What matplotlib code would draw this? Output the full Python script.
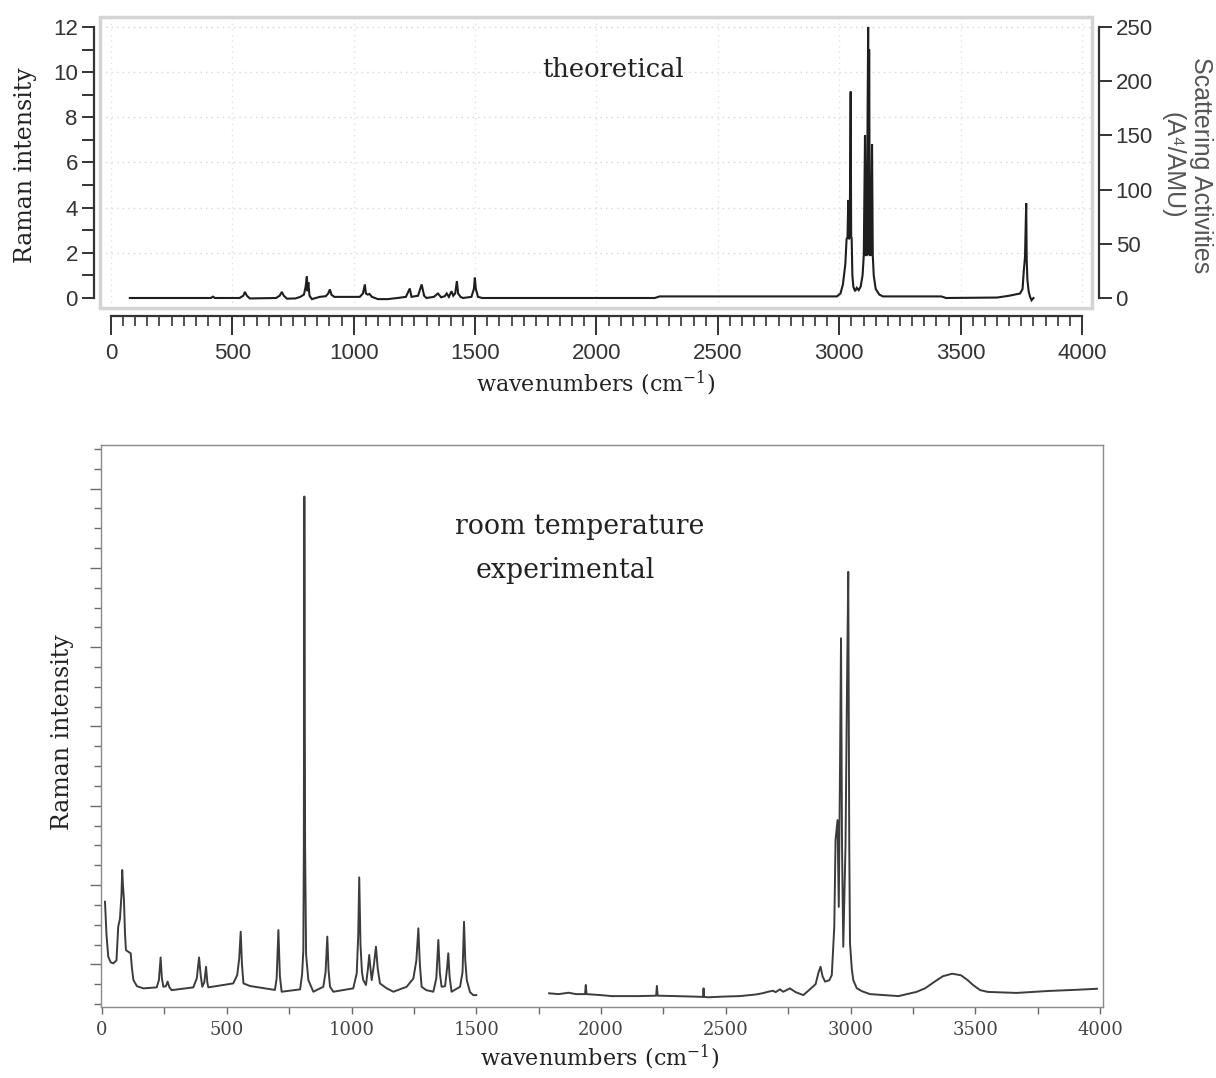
import numpy as np
import matplotlib
matplotlib.use("Agg")
import matplotlib.pyplot as plt
from matplotlib import font_manager
from matplotlib.patches import Rectangle
from matplotlib.ticker import MultipleLocator, FixedLocator

# ---------------- data ----------------
# theoretical spectrum, left axis units (Raman intensity)
theo_wn = [78, 300, 412, 420, 428, 530, 545, 552, 560, 572, 680, 695, 704, 712, 725, 760,
           780, 795, 802, 807, 810, 813, 818, 828, 860, 885, 895, 902, 908, 920, 1025, 1038,
           1046, 1050, 1058, 1065, 1075, 1100, 1140, 1180, 1215, 1231, 1238, 1265, 1280, 1290,
           1300, 1330, 1347, 1360, 1375, 1383, 1392, 1403, 1410, 1418, 1425, 1430, 1440, 1450,
           1485, 1495, 1499, 1503, 1512, 1530, 2240, 2260,
           2990, 3005, 3015, 3025, 3030, 3034, 3037, 3040, 3043, 3047, 3049, 3051, 3054, 3058,
           3065, 3072, 3080, 3088, 3096, 3101, 3106, 3109, 3113, 3119, 3121, 3123, 3126, 3130,
           3135, 3138, 3142, 3150, 3165, 3180, 3420, 3440, 3650, 3700, 3745, 3755, 3760, 3765,
           3770, 3772, 3775, 3780, 3786, 3792, 3800]
theo_int = [0.0, 0.0, 0.0, 0.06, 0.0, 0.0, 0.1, 0.27, 0.1, -0.02, 0.0, 0.1, 0.27, 0.1, -0.03, -0.02,
            0.05, 0.15, 0.5, 0.95, 0.3, 0.7, 0.1, -0.05, 0.05, 0.08, 0.2, 0.38, 0.15, 0.05, 0.05, 0.2,
            0.6, 0.2, 0.15, 0.18, 0.05, -0.05, -0.05, 0.0, 0.05, 0.42, 0.05, 0.1, 0.6, 0.1,
            0.0, 0.05, 0.2, 0.03, 0.08, 0.2, 0.05, 0.3, 0.1, 0.2, 0.75, 0.2, 0.05, 0.0,
            0.05, 0.4, 0.9, 0.4, 0.05, 0.0, 0.0, 0.07,
            0.07, 0.2, 0.6, 1.5, 2.6, 2.7, 4.34, 2.6, 2.7, 9.14, 2.7, 2.66, 1.0, 0.5,
            0.3, 0.45, 0.35, 0.5, 1.0, 1.9, 7.2, 1.9, 1.9, 12.0, 1.9, 11.0, 1.9, 1.9,
            6.8, 1.9, 1.0, 0.4, 0.15, 0.07, 0.07, 0.0, 0.02, 0.1, 0.2, 0.4, 1.2, 1.8,
            4.2, 1.7, 0.8, 0.3, 0.05, -0.1, 0.0]

# experimental spectrum (arbitrary units), two recorded ranges
exp_low_wn = [12, 18, 25, 35, 45, 58, 65, 72, 78, 81, 84, 88, 92, 96, 105, 115, 120, 126, 140, 166,
              219, 228, 235, 240, 246, 256, 263, 270, 279, 366, 380, 389, 396, 402, 410, 417, 422,
              426, 526, 542, 550, 556, 561, 567, 593, 693, 700, 707, 713, 720, 794, 802, 807, 809,
              811, 814, 818, 827, 847, 887, 896, 903, 908, 914, 927, 1007, 1021, 1027, 1031, 1036,
              1042, 1047, 1058, 1066, 1071, 1076, 1081, 1090, 1098, 1105, 1114, 1140, 1168, 1221,
              1248, 1260, 1268, 1274, 1281, 1300, 1328, 1340, 1348, 1354, 1361, 1375, 1383, 1388,
              1393, 1401, 1435, 1445, 1451, 1456, 1462, 1475, 1488, 1500]
exp_low_int = [5.16, 3.5, 2.39, 2.1, 2.05, 2.2, 3.9, 4.3, 5.5, 6.76, 6.0, 5.25, 3.6, 2.72, 2.64, 2.56,
               1.8, 1.21, 0.9, 0.79, 0.84, 1.2, 2.35, 1.3, 0.87, 0.9, 1.13, 0.85, 0.7, 0.84, 1.3, 2.35,
               1.4, 0.87, 1.1, 1.88, 1.1, 0.84, 1.04, 1.46, 2.3, 3.65, 2.0, 1.04, 0.91, 0.71, 1.3,
               3.73, 1.4, 0.62, 0.74, 1.5, 2.72, 8.0, 25.6, 8.0, 2.5, 1.21, 0.62, 0.87, 1.6, 3.4,
               1.7, 0.87, 0.62, 0.79, 1.55, 3.5, 6.39, 3.0, 1.6, 1.21, 0.96, 1.8, 2.47, 1.8, 1.21,
               2.0, 2.89, 1.8, 1.04, 0.8, 0.62, 0.87, 1.29, 2.2, 3.82, 2.0, 0.87, 0.7, 0.62, 1.3,
               3.23, 1.6, 0.87, 0.9, 1.8, 2.56, 1.4, 0.62, 0.87, 1.6, 4.15, 2.2, 1.21, 0.6, 0.45, 0.45]
exp_high_wn = [1792, 1830, 1870, 1900, 1936, 1939, 1942, 2000, 2043, 2150, 2221, 2224, 2227, 2300,
               2385, 2409, 2411, 2413, 2429, 2500, 2557, 2620, 2646, 2670, 2689, 2700, 2717, 2730,
               2739, 2757, 2780, 2811, 2838, 2860, 2872, 2880, 2888, 2898, 2915, 2925, 2935, 2940,
               2948, 2953, 2958, 2962, 2966, 2971, 2980, 2986, 2991, 2995, 2998, 3005, 3011, 3025,
               3045, 3078, 3192, 3264, 3300, 3335, 3370, 3407, 3443, 3470, 3493, 3520, 3551, 3666,
               3795, 3910, 3988]
exp_high_int = [0.54, 0.5, 0.57, 0.5, 0.5, 0.96, 0.5, 0.45, 0.40, 0.4, 0.42, 0.91, 0.42, 0.4,
                0.37, 0.36, 0.79, 0.36, 0.34, 0.38, 0.40, 0.48, 0.54, 0.62, 0.67, 0.6, 0.74, 0.62,
                0.67, 0.79, 0.6, 0.45, 0.75, 1.0, 1.6, 1.88, 1.4, 1.13, 1.2, 1.46, 3.9, 8.27,
                9.28, 4.9, 12.0, 18.45, 8.0, 2.89, 8.0, 16.0, 21.8, 8.0, 3.07, 1.8, 1.21, 0.8,
                0.65, 0.5, 0.40, 0.61, 0.8, 1.11, 1.4, 1.53, 1.45, 1.2, 0.94, 0.7, 0.61, 0.56,
                0.66, 0.72, 0.77]

x_ticks = [0, 500, 1000, 1500, 2000, 2500, 3000, 3500, 4000]
left_ticks = [0, 2, 4, 6, 8, 10, 12]
right_ticks = [0, 50, 100, 150, 200, 250]

# ---------------- fonts ----------------
def available(name):
    try:
        font_manager.findfont(font_manager.FontProperties(family=name), fallback_to_default=False)
        return True
    except Exception:
        return False

narrow = 'Liberation Sans Narrow' if available('Liberation Sans Narrow') else 'Liberation Sans'
serif = ['DejaVu Serif']
plt.rcParams['mathtext.default'] = 'regular'

W, H = 1216, 1078
fig = plt.figure(figsize=(W / 100, H / 100), dpi=100)

def frac(l, t, r, b):
    return [l / W, 1 - b / H, (r - l) / W, (b - t) / H]

# ---------------- top panel ----------------
ax = fig.add_axes(frac(100, 17, 1092, 308))
ax.set_xlim(-45, 4041)
ax.set_ylim(-0.443, 12.44)
ax.plot(theo_wn, theo_int, color='#1e1e1e', lw=1.5, solid_joinstyle='miter')
for s in ['top', 'right']:
    ax.spines[s].set_visible(False)
ax.spines['left'].set_position(('outward', 4))
ax.spines['left'].set_bounds(0, 12)
ax.spines['bottom'].set_position(('outward', 6))
ax.spines['bottom'].set_bounds(0, 4000)
for s in ['left', 'bottom']:
    ax.spines[s].set_color('#333333')
    ax.spines[s].set_linewidth(1.6)
ax.yaxis.set_major_locator(FixedLocator(left_ticks))
ax.yaxis.set_minor_locator(MultipleLocator(1))
ax.xaxis.set_major_locator(FixedLocator(x_ticks))
ax.xaxis.set_minor_locator(MultipleLocator(50))
ax.tick_params(axis='y', which='both', direction='out', length=9, width=1.4, color='#333333',
               labelsize=16, labelcolor='#333333', pad=3)
ax.tick_params(axis='x', which='major', direction='out', length=14, width=1.4, color='#333333',
               labelsize=16, labelcolor='#333333', pad=5)
ax.tick_params(axis='x', which='minor', direction='out', length=7, width=1.2, color='#333333')
for lab in ax.get_xticklabels() + ax.get_yticklabels():
    lab.set_family([narrow, 'DejaVu Sans'])
# grid
for v in [2, 4, 6, 8, 10, 12]:
    ax.axhline(v, color='#d6d6d6', lw=1, ls=(0, (1, 3)), zorder=0)
for v in x_ticks:
    ax.axvline(v, color='#e2e2e2', lw=1, ls=(0, (1, 3)), zorder=0)
ax.add_patch(Rectangle((0, 0), 1, 1, transform=ax.transAxes, fill=False,
                       ec='#d4d4d4', lw=2.5, clip_on=False, zorder=1))
ax.text(2068, 10.1, 'theoretical', family=serif, fontsize=18.5, ha='center', va='center',
        color='#222222')

# right axis
ax2 = ax.twinx()
ax2.set_ylim(np.array(ax.get_ylim()) * 250 / 12)
for s in ['top', 'left', 'bottom']:
    ax2.spines[s].set_visible(False)
ax2.spines['right'].set_position(('outward', 5))
ax2.spines['right'].set_bounds(0, 250)
ax2.spines['right'].set_color('#333333')
ax2.spines['right'].set_linewidth(1.6)
ax2.yaxis.set_major_locator(FixedLocator(right_ticks))
ax2.tick_params(axis='y', direction='out', length=9, width=1.4, color='#333333',
                labelsize=16, labelcolor='#333333', pad=3)
for lab in ax2.get_yticklabels():
    lab.set_family([narrow, 'DejaVu Sans'])

fig.text(26 / W, 1 - 165 / H, 'Raman intensity', rotation=90, family=serif, fontsize=17,
         ha='center', va='center', color='#222222')
fig.text(596 / W, 1 - 383 / H, 'wavenumbers (cm$^{-1}$)', family=serif, fontsize=16,
         ha='center', va='center', color='#222222')
fig.text(1201 / W, 1 - 165 / H, 'Scattering Activities', rotation=270,
         family=['Liberation Sans', 'DejaVu Sans'], fontsize=18, ha='center', va='center',
         color='#555555')
fig.text(1172 / W, 1 - 165 / H, '(A\u2074/AMU)', rotation=270,
         family=['Liberation Sans', 'DejaVu Sans'], fontsize=18, ha='center', va='center',
         color='#555555')

# ---------------- bottom panel ----------------
bx = fig.add_axes(frac(101, 445, 1103, 1007))
bx.set_xlim(-4, 4012)
bx.set_ylim(-0.15, 28.2)
bx.plot(exp_low_wn, exp_low_int, color='#3c3c3c', lw=1.4)
bx.plot(exp_high_wn, exp_high_int, color='#3c3c3c', lw=1.4)
for s in bx.spines.values():
    s.set_color('#8a8a8a')
    s.set_linewidth(1.0)
bx.xaxis.set_major_locator(FixedLocator(x_ticks))
bx.xaxis.set_minor_locator(MultipleLocator(250))
bx.yaxis.set_major_locator(FixedLocator([2, 6, 10, 14, 18, 22, 26]))
bx.yaxis.set_minor_locator(MultipleLocator(1))
bx.set_yticklabels([])
bx.tick_params(axis='y', which='major', direction='out', length=8, width=1, color='#6a6a6a')
bx.tick_params(axis='y', which='minor', direction='out', length=5, width=1, color='#6a6a6a')
bx.tick_params(axis='x', which='both', direction='out', length=5, width=1, color='#6a6a6a',
               labelsize=13, labelcolor='#444444', pad=5)
for lab in bx.get_xticklabels():
    lab.set_family(serif)

fig.text(580 / W, 1 - 527 / H, 'room temperature', family=serif, fontsize=19.3,
         ha='center', va='center', color='#222222')
fig.text(565 / W, 1 - 570 / H, 'experimental', family=serif, fontsize=19.3,
         ha='center', va='center', color='#222222')
fig.text(63 / W, 1 - 732 / H, 'Raman intensity', rotation=90, family=serif, fontsize=17,
         ha='center', va='center', color='#222222')
fig.text(600 / W, 1 - 1057 / H, 'wavenumbers (cm$^{-1}$)', family=serif, fontsize=16,
         ha='center', va='center', color='#222222')

fig.savefig('out.png', dpi=100, facecolor='white')
